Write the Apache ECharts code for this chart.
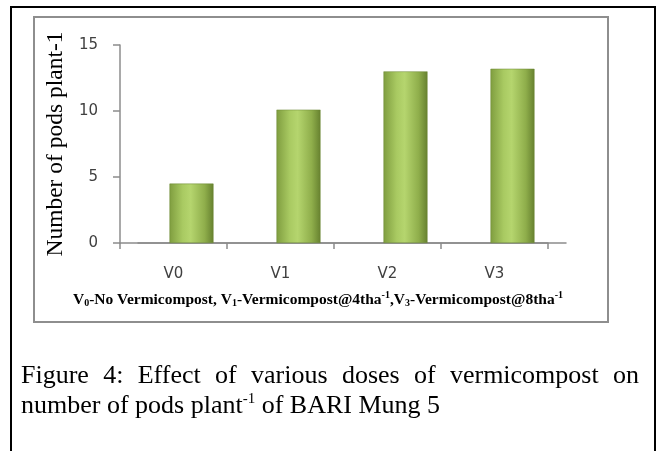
<!DOCTYPE html>
<html>
<head>
<meta charset="utf-8">
<script src="https://cdn.jsdelivr.net/npm/echarts@6/dist/echarts.min.js"></script>
<style>
html,body{margin:0;padding:0;background:#fff;}
#chart{width:660px;height:451px;}
</style>
</head>
<body>
<div id="chart"></div>
<script>
// ---- data ----
const categories = ['V0', 'V1', 'V2', 'V3'];
const podsPerPlant = [4.5, 10.1, 13.0, 13.2];
const yAxisMin = 0;
const yAxisMax = 15;
const yAxisInterval = 5;
const yAxisTitle = 'Number of pods plant-1';
const captionLine1Words = ['Figure', '4:', 'Effect', 'of', 'various', 'doses', 'of', 'vermicompost', 'on'];

// ---- chart ----
const serif = '"Liberation Serif", "Times New Roman", serif';
const sans = '"DejaVu Sans", Verdana, sans-serif';
const capFont = 26;
const capLeft = 21, capRight = 639;

// justify caption first line by measuring words
const ctx = document.createElement('canvas').getContext('2d');
ctx.font = capFont + 'px ' + serif;
let wordsW = 0;
captionLine1Words.forEach(w => { wordsW += ctx.measureText(w).width; });
const spaceW = Math.max(3, (capRight - capLeft - wordsW) / (captionLine1Words.length - 1));
const line1 = captionLine1Words.map(w => '{w|' + w + '}').join('{s|}');

const barGradient = new echarts.graphic.LinearGradient(0, 0, 1, 0, [
  { offset: 0, color: '#7f9d3f' },
  { offset: 0.3, color: '#a9ca62' },
  { offset: 0.48, color: '#b5d56e' },
  { offset: 0.8, color: '#8fae4b' },
  { offset: 1, color: '#66812f' }
]);

const axisGray = '#8c8c8c';
const chart = echarts.init(document.getElementById('chart'), null, { renderer: 'canvas' });
chart.setOption({
  animation: false,
  grid: [
    { left: 120, top: 45, width: 428, height: 198, containLabel: false },
    { left: 138, top: 45, width: 428, height: 198, containLabel: false }
  ],
  xAxis: [
    {
      type: 'category', gridIndex: 0, data: categories,
      axisLine: { lineStyle: { color: axisGray, width: 1.5 } },
      axisTick: { show: true, length: 6, lineStyle: { color: axisGray, width: 1.5 } },
      axisLabel: { margin: 24, color: '#404040', fontSize: 15, fontFamily: sans }
    },
    {
      type: 'category', gridIndex: 1, data: categories,
      axisLine: { show: true, lineStyle: { color: axisGray, width: 1.5 } },
      axisTick: { show: false }, axisLabel: { show: false }
    }
  ],
  yAxis: [
    {
      type: 'value', gridIndex: 0, min: yAxisMin, max: yAxisMax, interval: yAxisInterval,
      name: yAxisTitle, nameLocation: 'middle', nameRotate: 90, nameGap: 47,
      nameTextStyle: { fontFamily: serif, fontSize: 23.5, color: '#000' },
      axisLine: { show: true, lineStyle: { color: axisGray, width: 1.5 } },
      axisTick: { show: true, length: 7, lineStyle: { color: axisGray, width: 1.5 } },
      axisLabel: { margin: 22, color: '#404040', fontSize: 15, fontFamily: sans },
      splitLine: { show: false }
    },
    {
      type: 'value', gridIndex: 1, min: yAxisMin, max: yAxisMax, interval: yAxisInterval,
      show: false, splitLine: { show: false }
    }
  ],
  series: [{
    type: 'bar', xAxisIndex: 1, yAxisIndex: 1, data: podsPerPlant,
    barWidth: 44,
    itemStyle: { color: barGradient, borderColor: '#6a8632', borderWidth: 0.5 }
  }],
  graphic: [
    { type: 'rect', shape: { x: 11, y: 7, width: 644, height: 470 }, style: { fill: null, stroke: '#000', lineWidth: 2 }, z: -1 },
    { type: 'rect', shape: { x: 34, y: 17, width: 574, height: 305 }, style: { fill: null, stroke: '#8e8e8e', lineWidth: 2 }, z: -1 },
    {
      type: 'text', x: 318, y: 300,
      style: {
        text: '{b|V}{sb|0}{b|-No Vermicompost, V}{sb|1}{b|-Vermicompost@4tha}{sp|-1}{b|,V}{sb|3}{b|-Vermicompost@8tha}{sp|-1}',
        align: 'center', verticalAlign: 'middle',
        rich: {
          b: { fontFamily: serif, fontWeight: 'bold', fontSize: 15.5, color: '#000' },
          sb: { fontFamily: serif, fontWeight: 'bold', fontSize: 10, color: '#000', padding: [7, 0, 0, 0] },
          sp: { fontFamily: serif, fontWeight: 'bold', fontSize: 10, color: '#000', padding: [0, 0, 9, 0] }
        }
      }
    },
    {
      type: 'text', x: capLeft, y: 376,
      style: {
        text: line1, align: 'left', verticalAlign: 'middle',
        rich: {
          w: { fontFamily: serif, fontSize: capFont, color: '#000' },
          s: { width: spaceW, fontSize: capFont }
        }
      }
    },
    {
      type: 'text', x: capLeft, y: 406,
      style: {
        text: '{w|number of pods plant}{sp|-1}{w| of BARI Mung 5}', align: 'left', verticalAlign: 'middle',
        rich: {
          w: { fontFamily: serif, fontSize: capFont, color: '#000' },
          sp: { fontFamily: serif, fontSize: 15, color: '#000', padding: [0, 0, 13, 0] }
        }
      }
    }
  ]
});
</script>
</body>
</html>
